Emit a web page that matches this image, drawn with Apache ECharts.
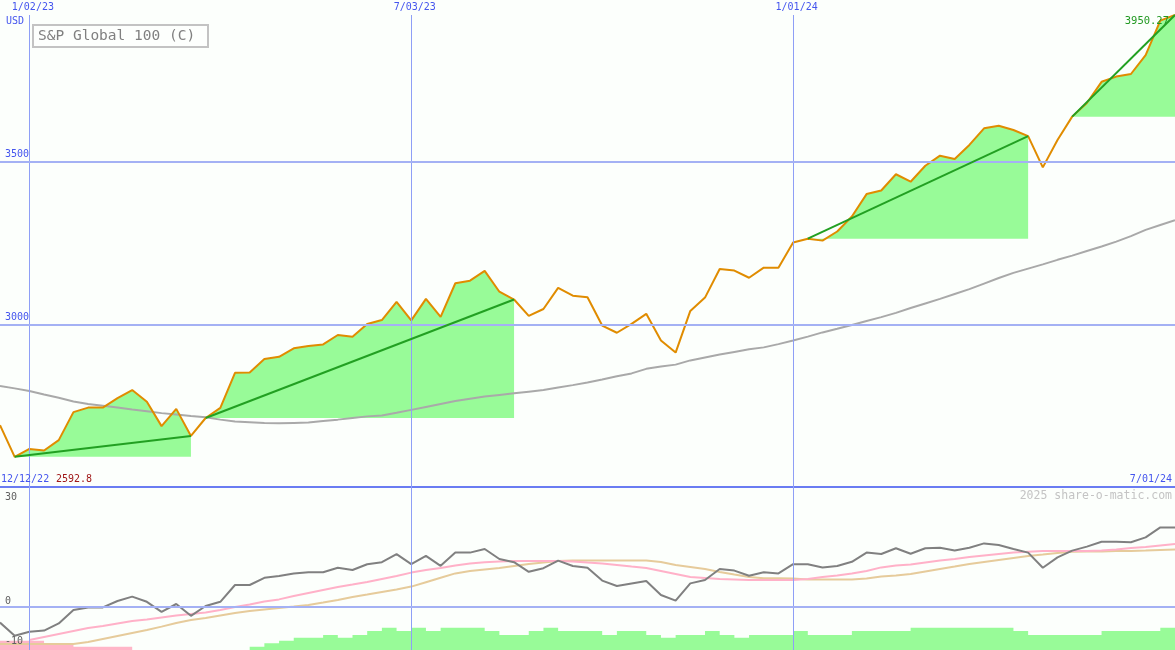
<!DOCTYPE html>
<html>
<head>
<meta charset="utf-8">
<script src="https://cdn.jsdelivr.net/npm/echarts@6/dist/echarts.min.js"></script>
<style>html,body{margin:0;padding:0;background:#fcfffc}#c{width:1175px;height:650px}</style>
</head>
<body>
<div id="c"></div>
<script>
// ---- data (weekly) ----
const dates = ['12/19/22','12/26/22',
 '1/02/23','1/09/23','1/16/23','1/23/23','1/30/23','2/06/23','2/13/23','2/20/23','2/27/23','3/06/23','3/13/23','3/20/23','3/27/23',
 '4/03/23','4/10/23','4/17/23','4/24/23','5/01/23','5/08/23','5/15/23','5/22/23','5/29/23','6/05/23','6/12/23','6/19/23','6/26/23',
 '7/03/23','7/10/23','7/17/23','7/24/23','7/31/23','8/07/23','8/14/23','8/21/23','8/28/23','9/04/23','9/11/23','9/18/23','9/25/23',
 '10/02/23','10/09/23','10/16/23','10/23/23','10/30/23','11/06/23','11/13/23','11/20/23','11/27/23','12/04/23','12/11/23','12/18/23','12/25/23',
 '1/01/24','1/08/24','1/15/24','1/22/24','1/29/24','2/05/24','2/12/24','2/19/24','2/26/24','3/04/24','3/11/24','3/18/24','3/25/24',
 '4/01/24','4/08/24','4/15/24','4/22/24','4/29/24','5/06/24','5/13/24','5/20/24','5/27/24','6/03/24','6/10/24','6/17/24','6/24/24','7/01/24'];

const price = [2690, 2592.8, 2617, 2612, 2644, 2730, 2744, 2744, 2773, 2798,
 2762, 2687, 2740, 2657, 2712, 2743, 2851, 2852, 2893, 2900,
 2926, 2933, 2938, 2967, 2962, 3001, 3013, 3069, 3012, 3078,
 3023, 3126, 3134, 3164, 3100, 3076, 3026, 3047, 3112, 3088,
 3083, 2996, 2974, 3001, 3032, 2950, 2913, 3041, 3082, 3170,
 3165, 3143, 3174, 3174, 3251, 3263, 3257, 3285, 3331, 3400,
 3411, 3461, 3438, 3487, 3518, 3508, 3551, 3602, 3610, 3597,
 3578, 3482, 3566, 3638, 3680, 3745, 3761, 3769, 3827, 3933,
 3950.27];

const priceMA = [2810, 2803, 2795, 2784, 2774, 2763, 2755, 2750, 2744, 2738,
 2733, 2727, 2723, 2718, 2714, 2707, 2701, 2699, 2697, 2696,
 2697, 2698, 2703, 2707, 2712, 2717, 2720, 2728, 2737, 2746,
 2755, 2764, 2771, 2778, 2783, 2788, 2793, 2798, 2806, 2813,
 2821, 2830, 2840, 2849, 2863, 2870, 2876, 2889, 2898, 2907,
 2915, 2923, 2929, 2939, 2950, 2962, 2975, 2986, 2998, 3010,
 3022, 3035, 3050, 3064, 3078, 3093, 3108, 3125, 3142, 3158,
 3171, 3184, 3198, 3211, 3225, 3239, 3254, 3271, 3290, 3305,
 3320];

const osc = [-3.9, -7.2, -6.2, -5.9, -4.1, -0.75, -0.1, -0.1, 1.5, 2.6,
 1.3, -1.2, 0.75, -2.2, 0.25, 1.3, 5.5, 5.5, 7.3, 7.75,
 8.4, 8.7, 8.7, 9.8, 9.25, 10.7, 11.2, 13.2, 10.7, 12.8,
 10.3, 13.6, 13.6, 14.5, 12, 11.2, 8.8, 9.7, 11.6, 10.25,
 9.8, 6.6, 5.25, 5.9, 6.5, 3, 1.6, 5.9, 6.75, 9.5,
 9.1, 7.8, 8.7, 8.4, 10.7, 10.7, 9.9, 10.25, 11.3, 13.6,
 13.25, 14.7, 13.3, 14.7, 14.8, 14.1, 14.8, 15.9, 15.5, 14.5,
 13.6, 9.8, 12.4, 14.1, 15.1, 16.3, 16.3, 16.2, 17.4, 19.9,
 19.9];

const oscFast = [null, null, -8.25, -7.5, -6.75, -6, -5.25, -4.75, -4.1, -3.5,
 -3.1, -2.6, -2.1, -1.75, -1.4, -0.75, 0, 0.6, 1.4, 1.9,
 2.75, 3.5, 4.25, 5, 5.6, 6.25, 7, 7.75, 8.6, 9.25,
 9.75, 10.4, 10.9, 11.2, 11.4, 11.5, 11.5, 11.5, 11.5, 11.4,
 11.1, 10.9, 10.5, 10.1, 9.75, 9, 8.25, 7.5, 7.25, 7,
 6.9, 6.75, 6.75, 6.75, 6.75, 7, 7.5, 7.9, 8.4, 9,
 9.9, 10.4, 10.6, 11.1, 11.6, 12, 12.5, 12.9, 13.25, 13.6,
 13.8, 14, 14, 14, 14, 14.1, 14.4, 14.75, 15, 15.4,
 15.75];

const oscSlow = [-9.25, -9.25, -9.25, -9.25, -9.25, -9.25, -8.75, -8, -7.25, -6.5,
 -5.75, -4.9, -4, -3.25, -2.75, -2.1, -1.5, -1, -0.6, -0.25,
 0.1, 0.5, 1.1, 1.75, 2.5, 3.1, 3.75, 4.4, 5.1, 6.2,
 7.3, 8.4, 9, 9.4, 9.75, 10.25, 10.75, 11.1, 11.5, 11.6,
 11.6, 11.6, 11.6, 11.6, 11.6, 11.25, 10.5, 10, 9.5, 8.75,
 8.1, 7.5, 7.2, 7.2, 7.1, 6.9, 6.9, 6.9, 6.9, 7.1,
 7.6, 7.9, 8.25, 8.9, 9.5, 10.1, 10.75, 11.25, 11.75, 12.25,
 12.75, 13.1, 13.5, 13.8, 13.9, 13.9, 14, 14, 14.1, 14.25,
 14.4];

const histUp = [null, null, null, null, null, null, null, null, null, null,
 null, null, null, null, null, null, null, 3.3, 6.7, 9.3,
 12.3, 12.3, 15, 12.3, 15, 19, 22.3, 19, 22.3, 19,
 22.3, 22.3, 22.3, 19, 15, 15, 19, 22.3, 19, 19,
 19, 15, 19, 19, 15, 12.3, 15, 15, 19, 15,
 12.3, 15, 15, 15, 19, 15, 15, 15, 19, 19,
 19, 19, 22.3, 22.3, 22.3, 22.3, 22.3, 22.3, 22.3, 19,
 15, 15, 15, 15, 15, 19, 19, 19, 19, 22.3,
 22.3];

const histDown = [9.3, 9.3, 9.3, 6.7, 6.7, 3.3, 3.3, 3.3, 3.3];

const trendStarts = ['12/26/22', '3/27/23', '1/08/24', '5/13/24'];
const trendEnds   = ['3/20/23', '8/21/23', '4/22/24', '7/01/24'];
const trendClosed = [true, true, true, false];

const gridDates = ['1/02/23', '7/03/23', '1/01/24'];
const priceTicks = [3500, 3000];
const oscLabels = [30, 0, -10];
const rangeStartLabel = '12/12/22';
const title = 'S&P Global 100 (C)';
const currency = 'USD';
const watermark = '2025 share-o-matic.com';

// ---- chart ----
const MONO = "'DejaVu Sans Mono', monospace";
const BLUE = '#4455ee';
const GLINE = '#a4b1f4';
const VLINE = '#8e9ff6';
const chart = echarts.init(document.getElementById('c'));
const idx = d => dates.indexOf(d);
const isGridDate = (i, v) => gridDates.indexOf(v) >= 0;

const fillSeries = trendStarts.map((s, k) => {
  const a = idx(s), b = idx(trendEnds[k]);
  return {
    type: 'line', xAxisIndex: 0, yAxisIndex: 0, z: 1, silent: true,
    data: dates.slice(a, b + 1).map((d, i) => [d, price[a + i]]),
    symbol: 'none', showSymbol: false,
    lineStyle: { width: 0, opacity: 0 },
    areaStyle: { color: '#98fb98', opacity: 1, origin: price[a] }
  };
});

const trendSeries = trendStarts.map((s, k) => {
  const a = idx(s), b = idx(trendEnds[k]);
  return {
    type: 'line', xAxisIndex: 0, yAxisIndex: 0, z: 6, silent: true,
    data: [
      { value: [s, price[a]], symbol: 'circle', symbolSize: 11, itemStyle: { color: '#858585' } },
      { value: [trendEnds[k], price[b]], symbol: trendClosed[k] ? 'circle' : 'none', symbolSize: 11, itemStyle: { color: '#22a022' } }
    ],
    showSymbol: true,
    lineStyle: { color: '#22a022', width: 2 }
  };
});

const lowerOsc = { xAxisIndex: 1, yAxisIndex: 1 };
const histDownFull = dates.map((d, i) => (i < histDown.length ? histDown[i] : null));
const TRANSP = 'rgba(0,0,0,0)';

const oscLabelLines = oscLabels.map(v => {
  const isZero = v === 0;
  const isTop = v === Math.max(...oscLabels);
  return {
    yAxis: v,
    lineStyle: isZero ? { color: GLINE, width: 2, type: 'solid' } : { color: TRANSP, width: 1, type: 'solid' },
    label: { show: true, position: isTop ? 'insideStartBottom' : 'insideStartTop', formatter: String(v),
      color: '#606060', fontFamily: MONO, fontSize: 10, distance: isTop ? [5, 5] : [5, 1] }
  };
});

const vLines = gridDates.map(d => ({ xAxis: d, lineStyle: { color: VLINE, width: 1, type: 'solid', opacity: 1 }, label: { show: false } }));

const baseCat = { type: 'category', data: dates, boundaryGap: false, axisTick: { show: false } };

const option = {
  animation: false,
  backgroundColor: '#fcfffc',
  grid: [
    { left: 0, right: 0, top: 15, height: 472 },
    { left: 0, right: 0, top: 487, height: 163 }
  ],
  xAxis: [
    { ...baseCat, gridIndex: 0, position: 'bottom',
      axisLine: { show: true, lineStyle: { color: '#6a7cf2', width: 2 } },
      axisLabel: { show: false }, splitLine: { show: false } },
    { ...baseCat, gridIndex: 1,
      axisLine: { show: false }, axisLabel: { show: false }, splitLine: { show: false } },
    { ...baseCat, gridIndex: 0, position: 'top',
      axisLine: { show: false }, splitLine: { show: false },
      axisLabel: { show: true, interval: isGridDate, color: BLUE, fontFamily: MONO, fontSize: 10, margin: 3, padding: [0, 0, 0, 7] } }
  ],
  yAxis: [
    { type: 'value', gridIndex: 0, min: 2500, max: Math.max(...price), show: false, splitLine: { show: false } },
    { type: 'value', gridIndex: 1, min: -10.75, max: 30, show: false, splitLine: { show: false } },
    { type: 'value', gridIndex: 1, min: 0, max: 163, show: false, splitLine: { show: false } }
  ],
  series: [
    // top grid lines
    { type: 'line', xAxisIndex: 0, yAxisIndex: 0, z: 0, silent: true, data: price, symbol: 'none',
      lineStyle: { opacity: 0 },
      markLine: { silent: true, symbol: ['none', 'none'], animation: false,
        data: [
          ...vLines,
          ...priceTicks.map(v => ({ yAxis: v, lineStyle: { color: GLINE, width: 2, type: 'solid' },
            label: { show: true, position: 'insideStartTop', formatter: String(v), color: BLUE, fontFamily: MONO, fontSize: 10, distance: [5, 2] } }))
        ] } },
    ...fillSeries,
    { name: 'MA', type: 'line', xAxisIndex: 0, yAxisIndex: 0, z: 3, silent: true, data: priceMA, symbol: 'none',
      lineStyle: { color: '#a9a9a9', width: 2 } },
    { name: 'Price', type: 'line', xAxisIndex: 0, yAxisIndex: 0, z: 4, silent: true, data: price, symbol: 'none', clip: false,
      lineStyle: { color: '#e08c00', width: 2 },
      markPoint: { silent: true, symbol: 'circle', symbolSize: 0,
        data: [{ coord: [dates[dates.length - 1], price[price.length - 1]], value: price[price.length - 1] }],
        label: { show: true, position: 'left', formatter: '{c}', color: '#229922', fontFamily: MONO, fontSize: 10.5, distance: 6, offset: [0, 6] } } },
    ...trendSeries,

    // lower panel
    { type: 'line', ...lowerOsc, z: 0, silent: true, data: osc, symbol: 'none', lineStyle: { opacity: 0 },
      markLine: { silent: true, symbol: ['none', 'none'], animation: false, data: [...vLines, ...oscLabelLines] } },
    { type: 'line', xAxisIndex: 1, yAxisIndex: 2, z: 1, silent: true, data: histUp, step: 'end', symbol: 'none',
      lineStyle: { width: 0, opacity: 0 }, areaStyle: { color: '#98fb98', opacity: 1, origin: 'start' } },
    { type: 'line', xAxisIndex: 1, yAxisIndex: 2, z: 1, silent: true, data: histDownFull, step: 'end', symbol: 'none',
      lineStyle: { width: 0, opacity: 0 }, areaStyle: { color: '#ffb6c8', opacity: 1, origin: 'start' } },
    { type: 'line', ...lowerOsc, z: 3, silent: true, data: oscSlow, symbol: 'none', lineStyle: { color: '#e6cb9b', width: 2 } },
    { type: 'line', ...lowerOsc, z: 3, silent: true, data: oscFast, symbol: 'none', lineStyle: { color: '#ffb1c8', width: 2 } },
    { type: 'line', ...lowerOsc, z: 4, silent: true, data: osc, symbol: 'none', lineStyle: { color: '#808080', width: 2 } }
  ],
  graphic: [
    { type: 'text', silent: true, z: 10, style: { x: 6, y: 16, text: currency, font: '10px ' + MONO, fill: BLUE } },
    { type: 'rect', silent: true, z: 10, shape: { x: 33, y: 25, width: 175, height: 22 },
      style: { fill: '#fdfffd', stroke: '#c3c3c3', lineWidth: 2 } },
    { type: 'text', silent: true, z: 11, style: { x: 38, y: 29, text: title, font: '14.5px ' + MONO, fill: '#808080' } },
    { type: 'text', silent: true, z: 10, style: { x: 1, y: 474, text: rangeStartLabel, font: '10px ' + MONO, fill: BLUE } },
    { type: 'text', silent: true, z: 10, style: { x: 56, y: 474, text: String(Math.min(...price)), font: '10px ' + MONO, fill: '#a01818' } },
    { type: 'text', silent: true, z: 10, style: { x: 1172, y: 474, text: dates[dates.length - 1], font: '10px ' + MONO, fill: BLUE, align: 'right' } },
    { type: 'text', silent: true, z: 10, style: { x: 1172, y: 490, text: watermark, font: '11.5px ' + MONO, fill: '#c4c4c4', align: 'right' } }
  ]
};
chart.setOption(option);
</script>
</body>
</html>
